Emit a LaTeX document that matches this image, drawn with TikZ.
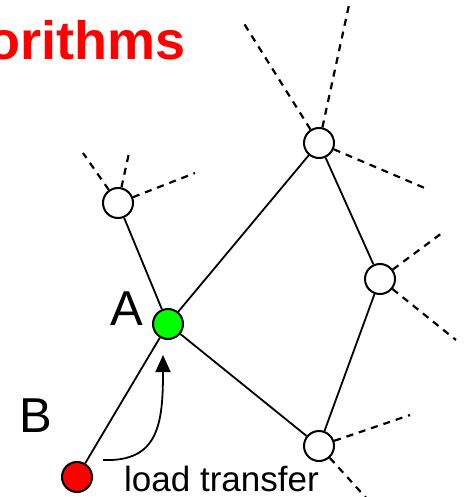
\documentclass[tikz,border=0pt]{standalone}
\usepackage{fontspec}
\setmainfont{Liberation Sans}
\usetikzlibrary{arrows.meta}
\definecolor{pured}{RGB}{255,0,0}
\definecolor{pugreen}{RGB}{0,255,0}
\begin{document}
\begin{tikzpicture}[x=1pt,y=-1pt,
  vtx/.style={circle,draw,line width=2pt,minimum size=30pt,inner sep=0pt,fill=white},
  edge/.style={line width=1.8pt},
  dsh/.style={line width=2.2pt,dash pattern=on 7pt off 6pt},
  lbl/.style={anchor=base,inner sep=0pt,font=\fontsize{49}{55}\selectfont}]
\useasboundingbox (0,0) rectangle (463,497);
% title
\node[anchor=base west,inner sep=0pt,text=pured,font=\bfseries\fontsize{54}{60}\selectfont] (title) at (-13,60) {orithms};
% dashed ends
\coordinate (d1) at (83,153);
\coordinate (d2) at (129,153);
\coordinate (d3) at (195,173);
\coordinate (d4) at (243,22);
\coordinate (d5) at (349,5);
\coordinate (d6) at (427,189);
\coordinate (d7) at (442,233);
\coordinate (d8) at (456,340);
\coordinate (d9) at (410,415);
\coordinate (d10) at (368,500);
% vertices
\node[vtx] (n1) at (118,203) {};
\node[vtx] (n2) at (319,143) {};
\node[vtx] (n3) at (380,279) {};
\node[vtx] (n4) at (319,446) {};
\node[vtx,fill=pugreen] (a) at (168,324) {};
\node[vtx,fill=pured] (b) at (77,477) {};
% edges
\draw[edge] (n1) -- (a);
\draw[edge] (a) -- (n2);
\draw[edge] (a) -- (n4);
\draw[edge] (a) -- (b);
\draw[edge] (n2) -- (n3);
\draw[edge] (n3) -- (n4);
% dashed
\draw[dsh] (n1) -- (d1);
\draw[dsh] (n1) -- (d2);
\draw[dsh] (n1) -- (d3);
\draw[dsh] (n2) -- (d4);
\draw[dsh] (n2) -- (d5);
\draw[dsh] (n2) -- (d6);
\draw[dsh] (n3) -- (d7);
\draw[dsh] (n3) -- (d8);
\draw[dsh] (n4) -- (d9);
\draw[dsh] (n4) -- (d10);
% labels
\node[lbl] (la) at (127,325) {A};
\node[lbl] (lb) at (36,432) {B};
\node[anchor=base west,inner sep=0pt,font=\fontsize{35}{40}\selectfont] (lt) at (124,491) {load transfer};
% arrow
\coordinate (as) at (103,460);
\coordinate (ae) at (163,355);
\draw[line width=1.8pt,-{Triangle[length=17pt,width=15pt]}] (as) .. controls (158,462) and (163,425) .. (ae);
\end{tikzpicture}
\end{document}
